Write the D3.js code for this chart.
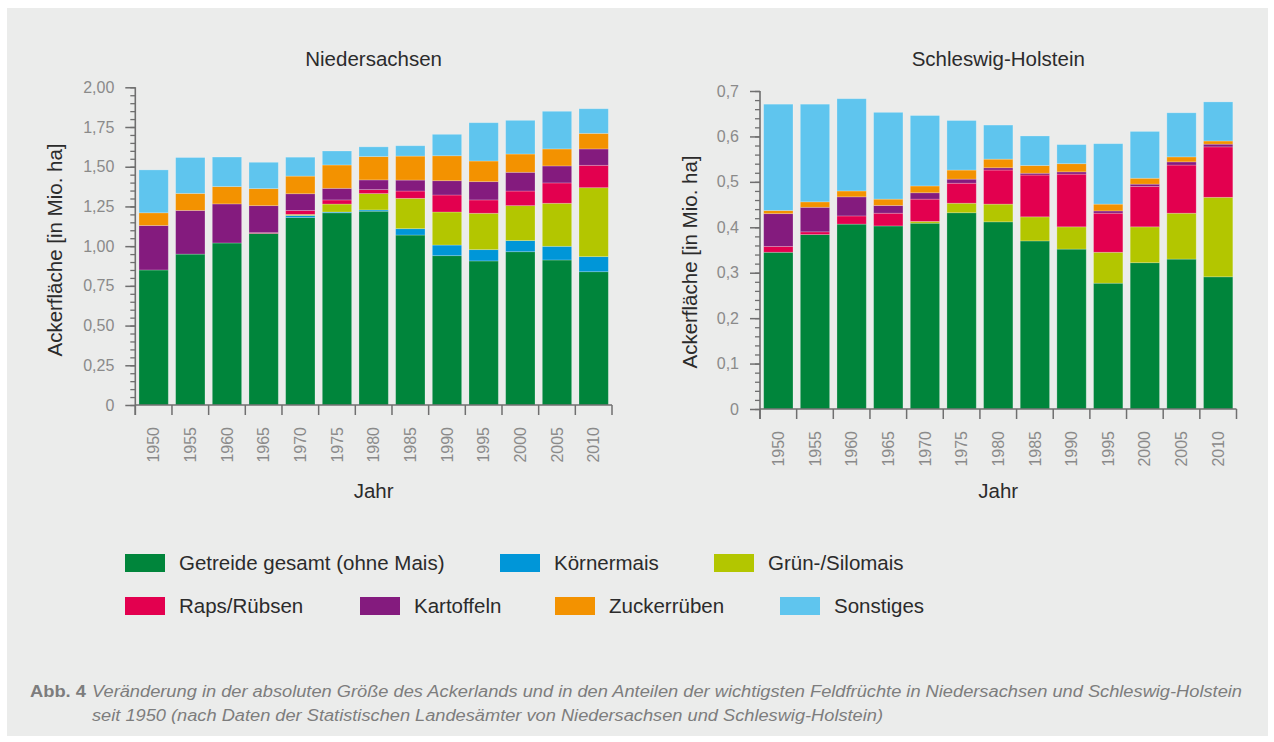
<!DOCTYPE html>
<html>
<head>
<meta charset="utf-8">
<script src="https://cdn.jsdelivr.net/npm/d3@7"></script>
<style>
  html, body { margin: 0; padding: 0; background: #ffffff; }
  svg { display: block; font-family: "Liberation Sans", Arial, Helvetica, sans-serif; }
</style>
</head>
<body>
<svg id="chart" width="1274" height="742"></svg>
<script>
// ---------- DATA ----------
const years = [1950, 1955, 1960, 1965, 1970, 1975, 1980, 1985, 1990, 1995, 2000, 2005, 2010];
const seriesNames = ["Getreide gesamt (ohne Mais)", "Körnermais", "Grün-/Silomais", "Raps/Rübsen", "Kartoffeln", "Zuckerrüben", "Sonstiges"];
const seriesColors = ["#00853b", "#0096d8", "#b3c600", "#e3004f", "#841b7e", "#f39200", "#5fc5ee"];

// Niedersachsen (Mio. ha)
const niGetreide  = [0.85, 0.95, 1.02, 1.08, 1.18, 1.21, 1.22, 1.07, 0.94, 0.907, 0.965, 0.913, 0.839];
const niKoernermais = [0, 0, 0, 0, 0.013, 0.005, 0.008, 0.04, 0.067, 0.071, 0.07, 0.086, 0.095];
const niSilomais  = [0, 0, 0, 0, 0.007, 0.05, 0.103, 0.191, 0.208, 0.229, 0.22, 0.271, 0.434];
const niRaps      = [0, 0, 0, 0.005, 0.025, 0.026, 0.025, 0.046, 0.107, 0.084, 0.092, 0.128, 0.141];
const niKartoffeln = [0.28, 0.275, 0.246, 0.17, 0.105, 0.073, 0.061, 0.069, 0.09, 0.115, 0.118, 0.107, 0.103];
const niZucker    = [0.08, 0.107, 0.109, 0.107, 0.111, 0.147, 0.147, 0.151, 0.157, 0.13, 0.115, 0.107, 0.098];
const niSonstiges = [0.27, 0.226, 0.186, 0.166, 0.119, 0.088, 0.061, 0.065, 0.135, 0.241, 0.212, 0.237, 0.155];

// Schleswig-Holstein (Mio. ha)
const shGetreide  = [0.345, 0.384, 0.407, 0.403, 0.409, 0.432, 0.412, 0.37, 0.352, 0.277, 0.322, 0.33, 0.291];
const shKoernermais = [0, 0, 0, 0, 0, 0, 0, 0, 0, 0, 0, 0, 0];
const shSilomais  = [0, 0, 0, 0, 0.004, 0.021, 0.039, 0.053, 0.049, 0.068, 0.079, 0.101, 0.175];
const shRaps      = [0.013, 0.006, 0.018, 0.028, 0.049, 0.044, 0.075, 0.092, 0.116, 0.086, 0.089, 0.106, 0.111];
const shKartoffeln = [0.072, 0.054, 0.042, 0.017, 0.014, 0.009, 0.005, 0.004, 0.005, 0.005, 0.005, 0.007, 0.006];
const shZucker    = [0.007, 0.012, 0.013, 0.014, 0.015, 0.02, 0.019, 0.017, 0.018, 0.015, 0.013, 0.011, 0.007];
const shSonstiges = [0.234, 0.215, 0.203, 0.191, 0.155, 0.109, 0.075, 0.065, 0.042, 0.133, 0.103, 0.097, 0.086];

const niTicks = [0, 0.25, 0.5, 0.75, 1.0, 1.25, 1.5, 1.75, 2.0];
const shTicks = [0, 0.1, 0.2, 0.3, 0.4, 0.5, 0.6, 0.7];

// ---------- DRAW ----------
const svg = d3.select("#chart");
svg.append("rect").attr("x", 7).attr("y", 8).attr("width", 1261).attr("height", 728).attr("fill", "#ebeceb");

const axisColor = "#6f6f6f";
const tickTextColor = "#8a8a8a";
const darkText = "#2b2b2b";
const bigFont = 20.5;

function buildRows(arrs) {
  return years.map((y, i) => {
    const r = { year: y };
    seriesNames.forEach((s, k) => { r[s] = arrs[k][i]; });
    return r;
  });
}

function drawChart(cfg) {
  const g = svg.append("g");
  const x = d3.scaleBand().domain(years).range([cfg.x0, cfg.x1]).paddingInner(0.2).paddingOuter(0.1);
  const y = d3.scaleLinear().domain([0, cfg.max]).range([cfg.yBase, cfg.yTop]);
  const rows = buildRows(cfg.series);
  const stack = d3.stack().keys(seriesNames)(rows);

  // bars
  stack.forEach((layer, k) => {
    g.append("g").selectAll("rect").data(layer).join("rect")
      .attr("x", d => x(d.data.year))
      .attr("width", x.bandwidth())
      .attr("y", d => y(d[1]))
      .attr("height", d => Math.max(0, y(d[0]) - y(d[1])))
      .attr("fill", seriesColors[k])
      .attr("stroke", "rgba(255,255,255,0.28)")
      .attr("stroke-width", 0.8);
  });

  // y axis minor ticks
  const minor = d3.range(0, cfg.max + 1e-9, cfg.minorStep);
  const minorAxis = d3.axisLeft(y).tickValues(minor).tickSize(5).tickFormat("");
  const gm = g.append("g").attr("transform", `translate(${cfg.x0},0)`).call(minorAxis);
  gm.select(".domain").remove();
  gm.selectAll("line").attr("stroke", axisColor).attr("stroke-width", 1.3);

  // y axis major ticks
  const majorAxis = d3.axisLeft(y).tickValues(cfg.ticks).tickSize(10).tickPadding(11)
    .tickFormat(d => d === 0 ? "0" : d3.format(cfg.fmt)(d).replace(".", ","));
  const ga = g.append("g").attr("transform", `translate(${cfg.x0},0)`).call(majorAxis);
  ga.select(".domain").remove();
  ga.selectAll("line").attr("stroke", axisColor).attr("stroke-width", 1.5);
  ga.selectAll("text").attr("fill", tickTextColor).attr("font-size", 16).attr("font-family", "Liberation Sans, Arial, sans-serif");

  // y axis line
  g.append("line").attr("x1", cfg.x0).attr("x2", cfg.x0).attr("y1", y(cfg.max)).attr("y2", cfg.yBase + 10)
    .attr("stroke", axisColor).attr("stroke-width", 1.6);
  // x axis line
  g.append("line").attr("x1", cfg.x0).attr("x2", cfg.x1).attr("y1", cfg.yBase).attr("y2", cfg.yBase)
    .attr("stroke", axisColor).attr("stroke-width", 1.6);

  // x boundary ticks
  const half = x.step() * x.paddingInner() / 2;
  const bounds = years.map(d => x(d) - half).concat([x(years[years.length - 1]) + x.bandwidth() + half]);
  g.append("g").selectAll("line").data(bounds).join("line")
    .attr("x1", d => d).attr("x2", d => d)
    .attr("y1", cfg.yBase).attr("y2", cfg.yBase + 10)
    .attr("stroke", axisColor).attr("stroke-width", 1.5);

  // x tick labels (rotated)
  g.append("g").selectAll("text").data(years).join("text")
    .attr("transform", d => `translate(${x(d) + x.bandwidth() / 2},${cfg.yBase + 22}) rotate(-90)`)
    .attr("text-anchor", "end").attr("dy", "0.35em")
    .attr("font-size", 16).attr("fill", tickTextColor)
    .text(d => d);

  // title
  g.append("text").attr("x", (cfg.x0 + cfg.x1) / 2).attr("y", 66)
    .attr("text-anchor", "middle").attr("font-size", bigFont).attr("fill", darkText)
    .text(cfg.title);

  // x title
  g.append("text").attr("x", (cfg.x0 + cfg.x1) / 2).attr("y", 498)
    .attr("text-anchor", "middle").attr("font-size", bigFont).attr("fill", darkText)
    .text("Jahr");

  // y title
  g.append("text").attr("transform", `translate(${cfg.yTitleX},${cfg.yTitleY}) rotate(-90)`)
    .attr("text-anchor", "middle").attr("dy", "0.35em")
    .attr("font-size", bigFont).attr("fill", darkText)
    .text("Ackerfläche [in Mio. ha]");
}

drawChart({
  title: "Niedersachsen",
  series: [niGetreide, niKoernermais, niSilomais, niRaps, niKartoffeln, niZucker, niSonstiges],
  x0: 135.3, x1: 612, yBase: 405, yTop: 87.3, max: 2.0, ticks: niTicks, minorStep: 0.05, fmt: ".2f",
  yTitleX: 55, yTitleY: 250
});
drawChart({
  title: "Schleswig-Holstein",
  series: [shGetreide, shKoernermais, shSilomais, shRaps, shKartoffeln, shZucker, shSonstiges],
  x0: 760, x1: 1236.5, yBase: 409, yTop: 91, max: 0.7, ticks: shTicks, minorStep: 0.02, fmt: ".1f",
  yTitleX: 690, yTitleY: 262
});

// ---------- LEGEND ----------
const legendPos = [
  [125, 563], [500, 563], [714, 563],
  [125, 606], [360, 606], [555, 606], [780, 606]
];
const lg = svg.append("g");
seriesNames.forEach((name, k) => {
  const [lx, ly] = legendPos[k];
  lg.append("rect").attr("x", lx).attr("y", ly - 9).attr("width", 40).attr("height", 18).attr("fill", seriesColors[k]);
  lg.append("text").attr("x", lx + 54).attr("y", ly).attr("dy", "0.35em")
    .attr("font-size", bigFont).attr("fill", darkText).text(name);
});

// ---------- CAPTION ----------
const cap = svg.append("g").attr("fill", "#7d7d7d").attr("font-size", 16);
cap.append("text").attr("x", 30).attr("y", 697).attr("font-weight", "bold")
  .attr("textLength", 56).attr("lengthAdjust", "spacingAndGlyphs").text("Abb. 4");
cap.append("text").attr("x", 92).attr("y", 697).attr("font-style", "italic")
  .attr("textLength", 1150).attr("lengthAdjust", "spacingAndGlyphs")
  .text("Veränderung in der absoluten Größe des Ackerlands und in den Anteilen der wichtigsten Feldfrüchte in Niedersachsen und Schleswig-Holstein");
cap.append("text").attr("x", 92).attr("y", 721).attr("font-style", "italic")
  .attr("textLength", 791).attr("lengthAdjust", "spacingAndGlyphs")
  .text("seit 1950 (nach Daten der Statistischen Landesämter von Niedersachsen und Schleswig-Holstein)");
</script>
</body>
</html>
